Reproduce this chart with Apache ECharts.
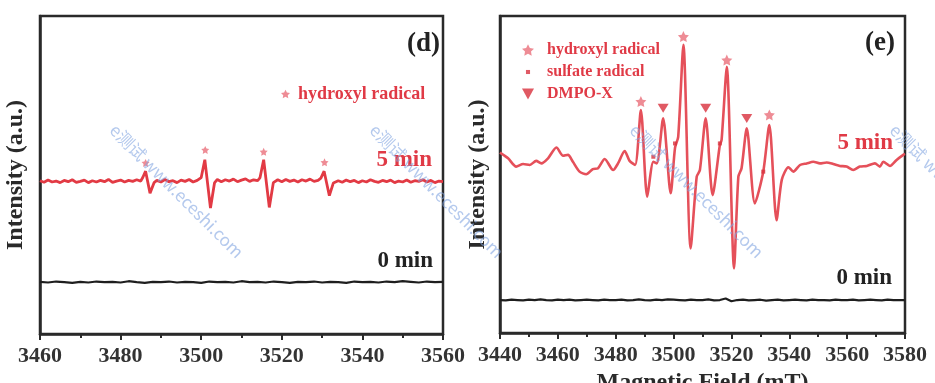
<!DOCTYPE html>
<html>
<head>
<meta charset="utf-8">
<script src="https://cdn.jsdelivr.net/npm/echarts@6/dist/echarts.min.js"></script>
<style>html,body{margin:0;padding:0;background:#fff}#c{width:935px;height:383px}</style>
</head>
<body>
<div id="c"></div>
<script>
// ---------- Panel (d) data ----------
const fieldD5 = [3460,3461,3462,3463,3464,3465,3466,3467,3468,3469,3470,3471,3472,3473,3474,3475,3476,3477,3478,3479,3480,3481,3482,3483,3484,3485,3485.5,3486.2,3487.3,3488.3,3489,3490,3491,3492,3493,3494,3495,3496,3497,3498,3499,3500,3500.9,3502.3,3503.3,3504,3505,3506,3507,3508,3509,3510,3511,3512,3513,3514,3514.6,3515.5,3516.9,3517.9,3519,3520,3521,3522,3523,3524,3525,3526,3527,3528,3529,3529.7,3530.5,3531.8,3532.8,3534,3535,3536,3537,3538,3539,3540,3541,3542,3543,3544,3545,3546,3547,3548,3549,3550,3551,3552,3553,3554,3555,3556,3557,3558,3559,3560];
const intD5 = [48.2,47.7,48.4,47.8,48.1,47.6,48.3,47.9,48.5,47.7,48.0,48.4,47.6,48.2,47.8,48.3,47.9,48.6,47.7,48.1,48.4,47.8,48.3,48.0,48.5,48.1,49.2,51.2,44.3,47.6,48.3,47.8,48.6,47.9,48.2,47.6,48.4,48.0,48.6,47.8,48.3,49.2,54.8,39.6,47.5,48.6,47.9,48.5,48.1,48.7,47.9,48.4,48.8,48.0,48.5,48.2,49.2,54.8,39.8,47.6,48.5,47.9,48.6,48.0,48.4,47.8,48.5,48.1,48.7,48.0,48.3,49.0,51.2,43.5,47.5,48.2,47.7,48.4,47.9,48.3,47.6,48.2,47.8,48.5,48.0,47.7,48.3,47.9,48.4,47.6,48.1,47.8,48.4,47.7,48.2,48.0,48.5,47.8,48.3,47.6,48.1,47.9];
const fieldD0 = [3460,3462,3464,3466,3468,3470,3472,3474,3476,3478,3480,3482,3484,3486,3488,3490,3492,3494,3496,3498,3500,3502,3504,3506,3508,3510,3512,3514,3516,3518,3520,3522,3524,3526,3528,3530,3532,3534,3536,3538,3540,3542,3544,3546,3548,3550,3552,3554,3556,3558,3560];
const intD0 = [16.4,16.2,16.5,16.3,16.1,16.4,16.2,16.5,16.3,16.4,16.2,16.6,16.3,16.1,16.4,16.3,16.5,16.2,16.4,16.3,16.1,16.5,16.3,16.4,16.2,16.6,16.3,16.4,16.2,16.5,16.3,16.1,16.4,16.3,16.5,16.2,16.4,16.3,16.1,16.5,16.3,16.4,16.2,16.5,16.3,16.6,16.4,16.2,16.5,16.3,16.4];
const starFieldD = [3486.2,3501.0,3515.5,3530.6];
const starIntD = [53.8,57.9,57.3,54.0];
const ticksD = [3460,3480,3500,3520,3540,3560];

// ---------- Panel (e) data ----------
const fieldE5 = [3440,3442.8,3445.6,3448,3450.3,3452.5,3454.3,3456.6,3459.5,3461.8,3463.5,3465.2,3467.5,3469.8,3472.1,3473.9,3476.2,3479.1,3480.8,3483.1,3484.8,3486.7,3488.7,3490.9,3493.0,3494.2,3496.4,3499.0,3500.5,3501.6,3503.4,3505.9,3508.0,3509.1,3511.1,3513.5,3516.0,3516.6,3518.4,3520.9,3522.4,3523.5,3525.3,3528.1,3531.0,3533.1,3535.6,3537.4,3539.7,3541.4,3543.7,3546.0,3548.3,3550.6,3552.9,3555.2,3557.5,3559.8,3562.1,3564.4,3566.8,3569.6,3571.3,3572.5,3574.8,3577.1,3579.4,3580];
const intE5 = [56.9,55.1,52.5,53.3,53.0,54.3,53.5,55.1,58.5,55.9,56.2,54.0,50.9,50.1,51.7,52.0,54.9,51.4,53.5,57.4,54.3,53.0,70.3,43.0,54.0,53.5,67.7,44.1,58.4,61.9,90.9,26.7,49.3,51.4,67.7,43.5,59.3,60.9,84.0,20.4,49.3,52.0,64.6,40.9,50.9,65.6,35.6,48.3,52.3,50.9,53.0,53.5,54.0,53.5,53.8,53.3,52.7,52.5,51.4,52.5,52.7,53.5,52.5,54.0,52.7,54.6,56.2,56.5];
const fieldE0 = [3440,3442,3444,3446,3448,3450,3452,3454,3456,3458,3460,3462,3464,3466,3468,3470,3472,3474,3476,3478,3480,3482,3484,3486,3488,3490,3492,3494,3496,3498,3500,3502,3504,3506,3508,3510,3512,3514,3516,3518,3520,3522,3524,3526,3528,3530,3532,3534,3536,3538,3540,3542,3544,3546,3548,3550,3552,3554,3556,3558,3560,3562,3564,3566,3568,3570,3572,3574,3576,3578,3580];
const intE0 = [10.4,10.3,10.5,10.4,10.3,10.5,10.4,10.6,10.4,10.3,10.5,10.4,10.5,10.3,10.4,10.5,10.4,10.3,10.5,10.4,10.4,10.5,10.3,10.4,10.6,10.4,10.3,10.5,10.4,10.6,10.5,10.4,10.3,10.5,10.4,10.4,10.6,10.3,10.4,10.9,10.0,10.4,10.5,10.3,10.4,10.5,10.2,10.4,10.5,10.3,10.4,10.5,10.4,10.3,10.5,10.4,10.4,10.3,10.5,10.4,10.4,10.5,10.3,10.4,10.5,10.4,10.3,10.5,10.4,10.4,10.4];
const starFieldE = [3488.7,3503.4,3518.4,3533.1];
const starIntE = [73.0,93.5,86.1,68.8];
const triFieldE = [3496.4,3511.1,3525.3];
const triIntE = [70.9,70.9,67.7];
const dotFieldE = [3493.0,3500.5,3516.0,3531.0];
const dotIntE = [55.6,59.8,59.8,50.9];
const ticksE = [3440,3460,3480,3500,3520,3540,3560,3580];

const legendNames = ['hydroxyl radical','sulfate radical','DMPO-X'];

// ---------- styling ----------
const SERIF = '"Liberation Serif","DejaVu Serif",serif';
const RED_LINE = '#e23a44';
const RED_LINE_E = '#e5505a';
const RED_TEXT = '#e03a46';
const STAR_COL = '#ea6f7a';
const DARK = '#2a2a2a';
const STAR = 'path://M0,-10L2.94,-4.05L9.51,-3.09L4.76,1.55L5.88,8.09L0,5L-5.88,8.09L-4.76,1.55L-9.51,-3.09L-2.94,-4.05Z';
const TRI_DOWN = 'path://M0,0L10,0L5,9Z';
const DOT_ICON = 'path://M0,0M10,10M3.3,3.3h3.4v3.4h-3.4z';

const zip = (a, b) => a.map((v, i) => [v, b[i]]);

function xAxisCfg(gi, min, max, nameTxt) {
  return {
    type: 'value', gridIndex: gi, min: min, max: max, interval: 20,
    name: nameTxt || '', nameLocation: 'middle', nameGap: 37,
    nameTextStyle: {fontFamily: SERIF, fontWeight: 'bold', fontSize: 24, color: DARK},
    axisLine: {show: true, lineStyle: {color: DARK, width: 2.5}},
    axisTick: {show: true, length: 6, lineStyle: {color: DARK, width: 2}},
    minorTick: {show: true, splitNumber: 2, length: 4, lineStyle: {color: DARK, width: 2}},
    splitLine: {show: false}, minorSplitLine: {show: false},
    axisLabel: {fontFamily: SERIF, fontWeight: 'bold', fontSize: 22, color: '#333', margin: 11,
      formatter: v => String(v)}
  };
}
function yAxisCfg(gi, gap) {
  return {
    type: 'value', gridIndex: gi, min: 0, max: 100,
    name: 'Intensity (a.u.)', nameLocation: 'middle', nameGap: gap, nameRotate: 90,
    nameTextStyle: {fontFamily: SERIF, fontWeight: 'bold', fontSize: 24, color: DARK},
    axisLine: {show: true, lineStyle: {color: DARK, width: 2.5}},
    axisTick: {show: false}, axisLabel: {show: false}, splitLine: {show: false}
  };
}

function wm(x, y) {
  return {type: 'text', x: x, y: y, rotation: -Math.PI / 4, z: 100,
    style: {text: 'e测试 www.eceshi.com', fill: 'rgba(130,165,225,0.6)',
      font: '17px "Noto Sans CJK SC", "DejaVu Sans", sans-serif', textAlign: 'left', textVerticalAlign: 'middle'}};
}
function txt(t, x, y, size, color) {
  return {type: 'text', x: x, y: y, z: 50,
    style: {text: t, fill: color, font: 'bold ' + size + 'px ' + SERIF, textAlign: 'right', textVerticalAlign: 'middle'}};
}

const chart = echarts.init(document.getElementById('c'), null, {renderer: 'canvas'});
chart.setOption({
  animation: false,
  backgroundColor: '#fff',
  grid: [
    {left: 40, right: 492, top: 16, bottom: 49, show: true, borderColor: DARK, borderWidth: 2.5,
     containLabel: false, outerBoundsMode: 'none'},
    {left: 500, right: 30, top: 16, bottom: 50, show: true, borderColor: DARK, borderWidth: 2.5,
     containLabel: false, outerBoundsMode: 'none'}
  ],
  xAxis: [xAxisCfg(0, ticksD[0], ticksD[ticksD.length - 1]), xAxisCfg(1, ticksE[0], ticksE[ticksE.length - 1], 'Magnetic Field (mT)')],
  yAxis: [yAxisCfg(0, 12), yAxisCfg(1, 10)],
  legend: [
    {left: 276, top: 80, orient: 'horizontal', itemWidth: 9, itemHeight: 9, selectedMode: false,
     data: [{name: 'hydroxyl radical', icon: STAR}],
     textStyle: {fontFamily: SERIF, fontWeight: 'bold', fontSize: 18, color: RED_TEXT, padding: [0, 0, 0, 3]}},
    {left: 517, top: 37, orient: 'vertical', itemWidth: 12, itemHeight: 12, itemGap: 6, selectedMode: false,
     data: [{name: legendNames[0], icon: STAR}, {name: legendNames[1], icon: DOT_ICON}, {name: legendNames[2], icon: TRI_DOWN}],
     textStyle: {fontFamily: SERIF, fontWeight: 'bold', fontSize: 16, color: RED_TEXT, padding: [0, 0, 0, 8]}}
  ],
  series: [
    {type: 'line', name: 'd 5 min', xAxisIndex: 0, yAxisIndex: 0, data: zip(fieldD5, intD5), showSymbol: false,
     lineStyle: {color: RED_LINE, width: 2.8}, z: 3},
    {type: 'line', name: 'd 0 min', xAxisIndex: 0, yAxisIndex: 0, data: zip(fieldD0, intD0), showSymbol: false,
     lineStyle: {color: '#1e1e1e', width: 2.2}, z: 3},
    {type: 'scatter', name: legendNames[0], xAxisIndex: 0, yAxisIndex: 0, data: zip(starFieldD, starIntD),
     symbol: STAR, symbolSize: 8, itemStyle: {color: STAR_COL}, z: 4},
    {type: 'line', name: 'e 5 min', xAxisIndex: 1, yAxisIndex: 1, data: zip(fieldE5, intE5), showSymbol: false, smooth: 0.25,
     lineStyle: {color: RED_LINE_E, width: 2.6}, z: 3},
    {type: 'line', name: 'e 0 min', xAxisIndex: 1, yAxisIndex: 1, data: zip(fieldE0, intE0), showSymbol: false,
     lineStyle: {color: '#1e1e1e', width: 2.2}, z: 3},
    {type: 'scatter', name: legendNames[0], xAxisIndex: 1, yAxisIndex: 1, data: zip(starFieldE, starIntE),
     symbol: STAR, symbolSize: 11, itemStyle: {color: STAR_COL}, z: 4},
    {type: 'scatter', name: legendNames[1], xAxisIndex: 1, yAxisIndex: 1, data: zip(dotFieldE, dotIntE),
     symbol: 'rect', symbolSize: 4, itemStyle: {color: '#d8323e'}, z: 4},
    {type: 'scatter', name: legendNames[2], xAxisIndex: 1, yAxisIndex: 1, data: zip(triFieldE, triIntE),
     symbol: TRI_DOWN, symbolSize: [11, 9], itemStyle: {color: '#d8303c'}, z: 4}
  ],
  graphic: [
    txt('(d)', 440, 44, 27, '#222'),
    txt('5 min', 432, 160, 23, RED_TEXT),
    txt('0 min', 433, 261, 23, '#222'),
    txt('(e)', 895, 43, 27, '#222'),
    txt('5 min', 893, 143, 23, RED_TEXT),
    txt('0 min', 892, 278, 23, '#222'),
    wm(113, 127), wm(373, 127), wm(633, 127), wm(893, 127)
  ]
});
</script>
</body>
</html>
